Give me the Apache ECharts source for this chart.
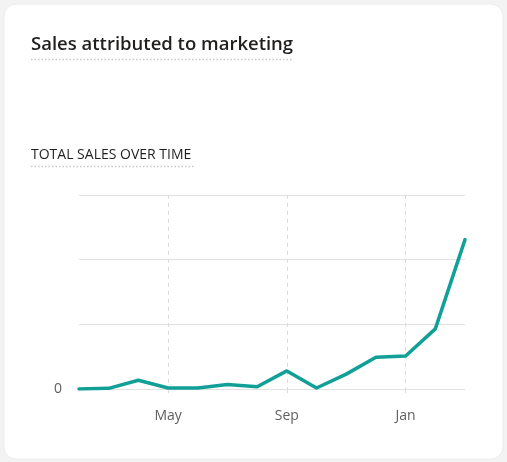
<!DOCTYPE html>
<html><head><meta charset="utf-8">
<script src="https://cdn.jsdelivr.net/npm/echarts@6/dist/echarts.min.js"></script>
<style>html,body{margin:0;padding:0;background:#f3f3f3;}#c{width:507px;height:462px;}</style>
</head><body><div id="c"></div>
<script>
const months = ['Feb','Mar','Apr','May','Jun','Jul','Aug','Sep','Oct','Nov','Dec','Jan','Feb','Mar'];
const shownIdx = [3, 7, 11];
const sales = [0, 0.01, 0.135, 0.015, 0.015, 0.07, 0.035, 0.28, 0.015, 0.23, 0.49, 0.51, 0.93, 2.31];
const yTicks = [0, 1, 2, 3];
const titleText = 'Sales attributed to marketing';
const subtitleText = 'TOTAL SALES OVER TIME';

const chart = echarts.init(document.getElementById('c'), null, {renderer:'canvas'});
const font = '"Open Sans", "Noto Sans", sans-serif';
chart.setOption({
  backgroundColor: '#f3f3f3',
  animation: false,
  graphic: [
    {type:'rect', shape:{x:4,y:4,width:499,height:455,r:12}, style:{fill:'#ffffff', stroke:'#ececec', lineWidth:1}, z:-10},
    {type:'text', left:31, top:35.5, style:{text:titleText, font:'600 18.5px ' + font, fill:'#201f1e'}},
    {type:'line', shape:{x1:31,y1:59.5,x2:293,y2:59.5}, style:{stroke:'#c8c8c8', lineWidth:1.5, lineDash:[1.5,2]}},
    {type:'text', left:31, top:148, style:{text:subtitleText, font:'400 14px ' + font, fill:'#201f1e'}},
    {type:'line', shape:{x1:31,y1:166.5,x2:195,y2:166.5}, style:{stroke:'#c8c8c8', lineWidth:1.5, lineDash:[1.5,2]}}
  ],
  grid: {left:79, right:42, top:195, bottom:73, containLabel:false},
  xAxis: {
    type:'category', data:months, boundaryGap:false,
    axisLine:{show:false},
    axisTick:{show:true, length:6, interval:(i)=>shownIdx.includes(i), lineStyle:{color:'#dcdcdc', type:[4,4]}},
    axisLabel:{interval:(i)=>shownIdx.includes(i), color:'#605e5c', fontSize:14, fontFamily:font, margin:20},
    splitLine:{show:true, interval:(i)=>shownIdx.includes(i), lineStyle:{color:'#dcdcdc', type:[4,4], width:1}}
  },
  yAxis: {
    type:'value', min:yTicks[0], max:yTicks[yTicks.length-1], interval:1,
    axisLine:{show:false}, axisTick:{show:false},
    axisLabel:{formatter:(v)=> v===0 ? '0' : '', color:'#605e5c', fontSize:14, fontFamily:font, margin:17},
    splitLine:{lineStyle:{color:'#e1e1e1', width:1}}
  },
  series: [{
    type:'line', data:sales, symbol:'none', smooth:false,
    lineStyle:{color:'#11a097', width:3.5, join:'round', cap:'round'},
    itemStyle:{color:'#11a097'}
  }]
});
</script></body></html>
